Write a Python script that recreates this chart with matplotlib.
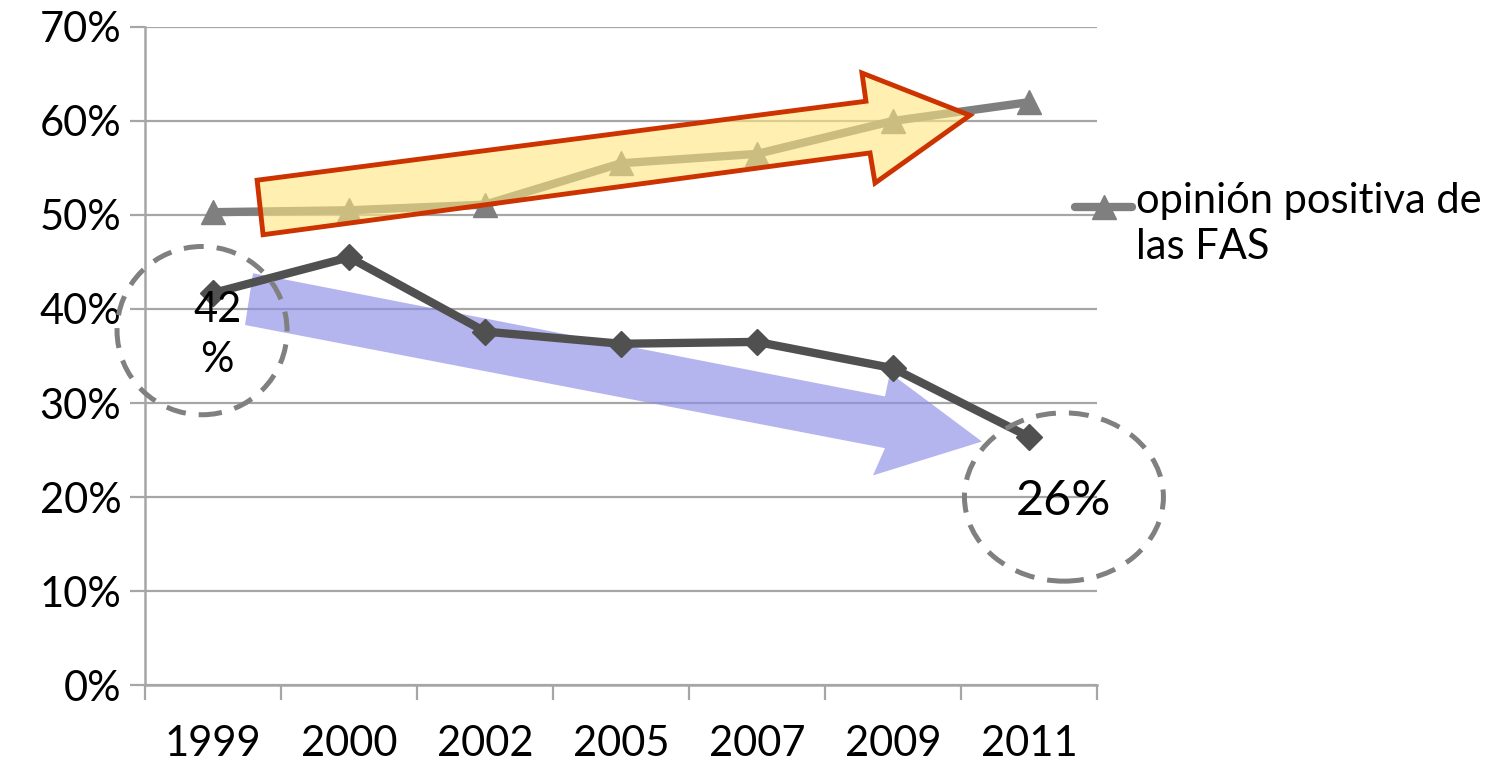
import matplotlib
matplotlib.use("Agg")
import matplotlib.pyplot as plt
from matplotlib.patches import Polygon, Ellipse
from matplotlib.lines import Line2D

plt.rcParams['font.family'] = ['Lato', 'DejaVu Sans']

years = ['1999', '2000', '2002', '2005', '2007', '2009', '2011']
positiva = [50.3, 50.5, 51.1, 55.5, 56.5, 60.0, 62.0]
otra = [41.7, 45.5, 37.6, 36.3, 36.5, 33.7, 26.4]
legend_label = 'opinión positiva de\nlas FAS'

fig = plt.figure(figsize=(15.11, 7.66), dpi=100)
ax = fig.add_axes([0.096, 0.1057, 0.630, 0.8591])

x = list(range(len(years)))
grid_c = '#A6A6A6'

# gridlines
ax.set_ylim(0, 70)
ax.set_xlim(-0.5, len(years) - 0.5)
ax.set_yticks(range(0, 71, 10))
ax.set_yticklabels([f'{v}%' for v in range(0, 71, 10)])
ax.yaxis.grid(True, color=grid_c, lw=1.6, zorder=0)
ax.set_axisbelow(True)

# x ticks between categories, labels centred
ax.set_xticks([i - 0.5 for i in range(len(years) + 1)])
ax.set_xticklabels([])
ax.set_xticks(x, minor=True)
ax.set_xticklabels(years, minor=True)
ax.tick_params(axis='x', which='major', length=11, width=1.6, color=grid_c, direction='out')
ax.tick_params(axis='x', which='minor', length=0, pad=29, labelsize=30)
ax.tick_params(axis='y', length=11, width=1.6, color=grid_c, labelsize=30, pad=6)

for s in ['top', 'right']:
    ax.spines[s].set_visible(False)
ax.spines['left'].set_color(grid_c)
ax.spines['left'].set_linewidth(1.8)
ax.spines['bottom'].set_color(grid_c)
ax.spines['bottom'].set_linewidth(1.8)

# blue arrow (behind the dark line)
blue_arrow = [(0.294, 43.8), (4.941, 30.7), (4.978, 33.2), (5.654, 25.9),
              (4.853, 22.3), (4.941, 25.2), (0.235, 38.3)]
ax.add_patch(Polygon(blue_arrow, closed=True, facecolor='#8C8CE6', alpha=0.65,
                     edgecolor='none', zorder=2))

ax.plot(x, otra, color='#505050', lw=6, marker='D', markersize=13, zorder=3)
ax.plot(x, positiva, color='#7F7F7F', lw=6, marker='^', markersize=17, zorder=3)

# yellow arrow on top of the grey line
yellow_arrow = [(0.324, 53.7), (4.801, 62.1), (4.772, 65.1), (5.566, 60.6),
                (4.868, 53.4), (4.831, 56.6), (0.368, 47.9)]
ax.add_patch(Polygon(yellow_arrow, closed=True, facecolor=(1.0, 0.9, 0.5, 0.6),
                     edgecolor='#CC3300', lw=3.5, zorder=4))

# dashed circles
ax.add_patch(Ellipse((-0.081, 37.7), 1.25, 17.9, fill=False, edgecolor='#808080',
                     lw=3.6, ls=(0, (4, 2.6)), clip_on=False, zorder=5))
ax.add_patch(Ellipse((6.257, 20.0), 1.463, 17.9, fill=False, edgecolor='#808080',
                     lw=3.6, ls=(0, (4, 2.6)), clip_on=False, zorder=5))
ax.text(0.03, 39.9, '42', fontsize=30, ha='center', va='center', zorder=6)
ax.text(0.03, 34.6, '%', fontsize=30, ha='center', va='center', zorder=6)
ax.text(6.25, 19.6, '26%', fontsize=35, ha='center', va='center', zorder=6)

# legend (single entry)
lx0, lx1, ly = 1075 / 1511, 1132 / 1511, 1 - 207 / 766
fig.add_artist(Line2D([lx0, lx1], [ly, ly], color='#7F7F7F', lw=6,
                      solid_capstyle='round', transform=fig.transFigure))
fig.add_artist(Line2D([(lx0 + lx1) / 2], [ly], color='#7F7F7F', marker='^',
                      markersize=17, transform=fig.transFigure))
fig.text(1136 / 1511, 1 - 182 / 766, legend_label, fontsize=30, va='top',
         ha='left', linespacing=1.25)

fig.savefig('out.png', dpi=100)
